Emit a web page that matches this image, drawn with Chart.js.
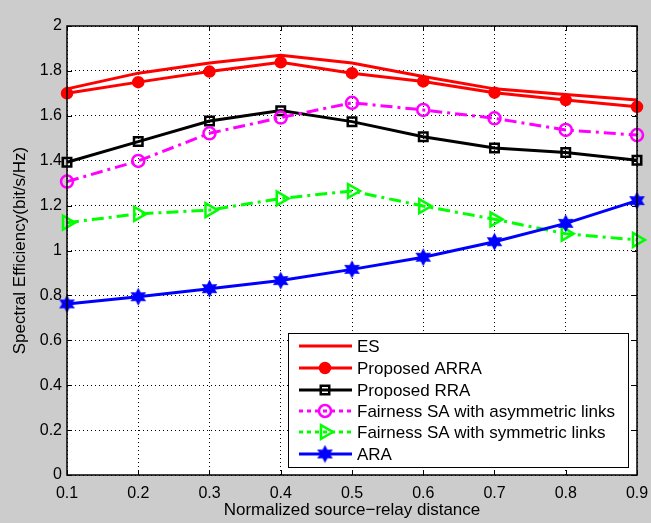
<!DOCTYPE html>
<html>
<head>
<meta charset="utf-8">
<script src="https://cdn.jsdelivr.net/npm/chart.js@4.4.1/dist/chart.umd.min.js"></script>
<style>
  html, body { margin: 0; padding: 0; background: #cccccc; }
  #wrap { width: 651px; height: 523px; }
</style>
</head>
<body>
<div id="wrap"><canvas id="chart" width="651" height="523"></canvas></div>
<script>
const distances = [0.1, 0.2, 0.3, 0.4, 0.5, 0.6, 0.7, 0.8, 0.9];
const esValues = [1.72, 1.79, 1.835, 1.87, 1.835, 1.775, 1.72, 1.695, 1.67];
const arraValues = [1.70, 1.75, 1.797, 1.838, 1.79, 1.753, 1.703, 1.67, 1.64];
const rraValues = [1.393, 1.485, 1.577, 1.623, 1.574, 1.507, 1.457, 1.437, 1.402];
const asymValues = [1.307, 1.399, 1.522, 1.592, 1.658, 1.626, 1.589, 1.537, 1.514];
const symValues = [1.124, 1.163, 1.18, 1.232, 1.265, 1.198, 1.139, 1.075, 1.047];
const araValues = [0.762, 0.794, 0.83, 0.866, 0.916, 0.97, 1.039, 1.121, 1.222];
const seriesNames = ['ES', 'Proposed ARRA', 'Proposed RRA',
  'Fairness SA with asymmetric links', 'Fairness SA with symmetric links', 'ARA'];

const FONT = '"Liberation Sans", Arial, sans-serif';
const dashDot = [12, 5, 3, 5];

// six-pointed star marker
function hexagram(size, color) {
  const c = document.createElement('canvas');
  c.width = size; c.height = size;
  const g = c.getContext('2d');
  const cx = size / 2, cy = size / 2, R = size / 2 - 0.5, r = R * 0.55;
  g.beginPath();
  for (let i = 0; i < 12; i++) {
    const a = -Math.PI / 2 + i * Math.PI / 6;
    const rad = i % 2 === 0 ? R : r;
    g.lineTo(cx + rad * Math.cos(a), cy + rad * Math.sin(a));
  }
  g.closePath();
  g.fillStyle = color;
  g.fill();
  return c;
}
const starImg = hexagram(19, '#0000ff');

function pts(vals) {
  return distances.map((x, i) => ({ x: x, y: vals[i] }));
}

const styles = [
  { color: '#ff0000', dash: [], point: false },
  { color: '#ff0000', dash: [], point: 'circle', fill: true, r: 5 },
  { color: '#000000', dash: [], point: 'rect', r: 6 },
  { color: '#ff00ff', dash: dashDot, point: 'circle', r: 6 },
  { color: '#00ff00', dash: dashDot, point: 'triangle', r: 8, rot: 90 },
  { color: '#0000ff', dash: [], point: starImg }
];
const allValues = [esValues, arraValues, rraValues, asymValues, symValues, araValues];

const datasets = allValues.map((vals, i) => {
  const s = styles[i];
  return {
    label: seriesNames[i],
    data: pts(vals),
    borderColor: s.color,
    backgroundColor: s.fill ? s.color : 'rgba(0,0,0,0)',
    borderWidth: 3,
    borderDash: s.dash,
    pointStyle: s.point,
    pointRadius: s.point ? (s.r || 8) : 0,
    pointBorderWidth: 2.5,
    pointBorderColor: s.color,
    pointBackgroundColor: s.fill ? s.color : 'rgba(0,0,0,0)',
    pointRotation: s.rot || 0,
    tension: 0,
    clip: false,
    order: 6 - i
  };
});

const framePlugin = {
  id: 'frame',
  beforeDraw(chart) {
    const ctx = chart.ctx, a = chart.chartArea;
    ctx.save();
    ctx.fillStyle = '#cccccc';
    ctx.fillRect(0, 0, chart.width, chart.height);
    ctx.fillStyle = '#ffffff';
    ctx.fillRect(a.left, a.top, a.right - a.left, a.bottom - a.top);
    ctx.restore();
  },
  afterDatasetsDraw(chart) {
    const ctx = chart.ctx, a = chart.chartArea;
    const xs = chart.scales.x, ys = chart.scales.y;
    ctx.save();
    ctx.strokeStyle = '#000';
    ctx.lineWidth = 1;
    ctx.setLineDash([]);
    const L = 5;
    ctx.beginPath();
    xs.ticks.forEach(t => {
      const px = Math.round(xs.getPixelForValue(t.value)) + 0.5;
      ctx.moveTo(px, a.bottom); ctx.lineTo(px, a.bottom - L);
      ctx.moveTo(px, a.top); ctx.lineTo(px, a.top + L);
    });
    ys.ticks.forEach(t => {
      const py = Math.round(ys.getPixelForValue(t.value)) + 0.5;
      ctx.moveTo(a.left, py); ctx.lineTo(a.left + L, py);
      ctx.moveTo(a.right, py); ctx.lineTo(a.right - L, py);
    });
    ctx.stroke();
    ctx.lineWidth = 1.5;
    ctx.strokeRect(a.left, a.top, a.right - a.left, a.bottom - a.top);

    // legend box
    const bx = 288, by = 333, bw = 340, bh = 134;
    ctx.fillStyle = '#fff';
    ctx.fillRect(bx, by, bw, bh);
    ctx.lineWidth = 1;
    ctx.strokeRect(bx + 0.5, by + 0.5, bw, bh);
    const rowY = [346, 368, 390, 411, 432, 454];
    ctx.font = '17px ' + FONT;
    ctx.textBaseline = 'middle';
    chart.data.datasets.forEach((ds, i) => {
      const y = rowY[i];
      ctx.save();
      ctx.strokeStyle = ds.borderColor;
      ctx.lineWidth = 3;
      ctx.setLineDash(ds.borderDash.length ? [4, 4] : []);
      ctx.beginPath();
      ctx.moveTo(299, y); ctx.lineTo(352, y);
      ctx.stroke();
      ctx.restore();
      if (ds.pointStyle) {
        ctx.save();
        ctx.setLineDash([]);
        ctx.strokeStyle = ds.pointBorderColor;
        ctx.fillStyle = ds.pointBackgroundColor;
        ctx.lineWidth = ds.pointBorderWidth;
        Chart.helpers.drawPoint(ctx, {
          pointStyle: ds.pointStyle,
          radius: ds.pointRadius,
          rotation: ds.pointRotation,
          borderWidth: ds.pointBorderWidth
        }, 325, y);
        ctx.restore();
      }
      ctx.fillStyle = '#000';
      ctx.fillText(ds.label, 357, y + 1);
    });
    ctx.restore();
  }
};

new Chart(document.getElementById('chart'), {
  type: 'line',
  data: { datasets: datasets },
  options: {
    responsive: false,
    animation: false,
    layout: { padding: { top: 26, right: 14, left: 0, bottom: 0 } },
    plugins: { legend: { display: false }, tooltip: { enabled: false } },
    scales: {
      x: {
        type: 'linear',
        min: 0.1, max: 0.9,
        afterFit(s) { s.height = 48; s.paddingRight = 0; s.paddingLeft = 0; },
        ticks: {
          stepSize: 0.1,
          color: '#000',
          font: { family: FONT, size: 16 },
          padding: 9,
          maxRotation: 0,
          callback: v => v.toFixed(1)
        },
        grid: { color: '#000', lineWidth: 1, drawTicks: false },
        border: { display: false, dash: [1, 3] },
        title: {
          display: true,
          text: 'Normalized source\u2212relay distance',
          color: '#000',
          font: { family: FONT, size: 17 },
          padding: { top: 0, bottom: 2 }
        }
      },
      y: {
        min: 0, max: 2,
        afterFit(s) { s.width = 67; s.paddingTop = 0; s.paddingBottom = 0; },
        ticks: {
          stepSize: 0.2,
          color: '#000',
          font: { family: FONT, size: 16 },
          padding: 5,
          callback: v => String(parseFloat(v.toFixed(1)))
        },
        grid: { color: '#000', lineWidth: 1, drawTicks: false },
        border: { display: false, dash: [1, 3] },
        title: {
          display: true,
          text: 'Spectral Efficiency(bit/s/Hz)',
          color: '#000',
          font: { family: FONT, size: 17 },
          padding: { top: 10, bottom: 0 }
        }
      }
    }
  },
  plugins: [framePlugin]
});
</script>
</body>
</html>
